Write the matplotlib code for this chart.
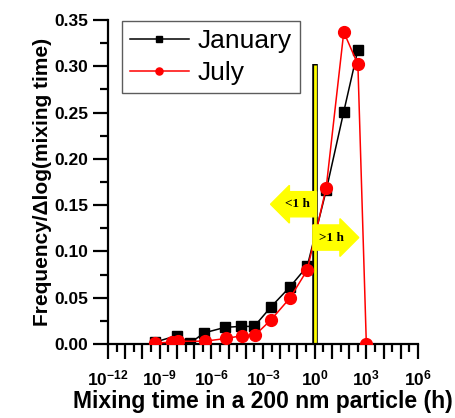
import numpy as np
import matplotlib
matplotlib.use("Agg")
import matplotlib.pyplot as plt
from matplotlib.ticker import FixedLocator, FuncFormatter

plt.rcParams['font.family'] = ['Liberation Sans', 'DejaVu Sans']
plt.rcParams['mathtext.fontset'] = 'custom'
plt.rcParams['mathtext.rm'] = 'Liberation Sans'
plt.rcParams['mathtext.bf'] = 'Liberation Sans:bold'

# Data (log10 of mixing time in hours, frequency)
jan_logt = [-9.27, -8.01, -7.23, -6.42, -5.20, -4.30, -3.51, -2.54, -1.42, -0.43, 0.67, 1.69, 2.51]
jan_freq = [0.002, 0.009, 0.001, 0.012, 0.018, 0.019, 0.019, 0.040, 0.062, 0.084, 0.166, 0.251, 0.318]
jul_logt = [-9.27, -8.30, -7.91, -6.38, -5.14, -4.21, -3.44, -2.54, -1.42, -0.43, 0.67, 1.69, 2.51, 3.00]
jul_freq = [0.001, 0.002, 0.003, 0.003, 0.006, 0.009, 0.010, 0.026, 0.050, 0.080, 0.169, 0.337, 0.302, 0.000]

series_names = ["January", "July"]
divider_time = 1.0      # 1 h
divider_height = 0.303
xtick_exponents = list(range(-12, 7))
labeled_exponents = [-12, -9, -6, -3, 0, 3, 6]

fig = plt.figure(figsize=(4.55, 4.18), dpi=100)
ax = fig.add_axes([108/455, 1-344/418, 310/455, 324/418])

ax.set_xscale('log')
ax.set_xlim(1e-12, 1e6)
ax.set_ylim(0, 0.35)

# divider bar at 1 h
ax.plot([divider_time, divider_time], [0, divider_height], color='black', lw=4.0,
        solid_capstyle='butt', zorder=2)
ax.plot([divider_time, divider_time], [0.0015, divider_height - 0.0015], color='#ffff00', lw=2.0,
        solid_capstyle='butt', zorder=2)

ax.plot(10**np.array(jan_logt), jan_freq, color='black', marker='s', ms=7, lw=1.1,
        label=series_names[0], zorder=3)
ax.plot(10**np.array(jul_logt), jul_freq, color='red', marker='o', ms=8.5, lw=1.1,
        label=series_names[1], zorder=4)

# arrows
ax.text(10**-1.0, 0.151, "<1 h", ha='center', va='center', fontsize=9.5, fontweight='bold',
        family=['Liberation Serif'],
        bbox=dict(boxstyle="larrow,pad=0.5", fc='#ffff00', ec='#ffff00'), zorder=5)
ax.text(10**1.0, 0.115, ">1 h", ha='center', va='center', fontsize=9.5, fontweight='bold',
        family=['Liberation Serif'],
        bbox=dict(boxstyle="rarrow,pad=0.5", fc='#ffff00', ec='#ffff00'), zorder=5)

# spines
for s in ['top', 'right']:
    ax.spines[s].set_visible(False)
for s in ['left', 'bottom']:
    ax.spines[s].set_linewidth(1.6)

# ticks
ax.xaxis.set_major_locator(FixedLocator([10.0**e for e in xtick_exponents]))
ax.xaxis.set_minor_locator(FixedLocator([10.0**(e+0.5) for e in xtick_exponents[:-1]]))
def xfmt(v, pos):
    e = int(round(np.log10(v)))
    if e in labeled_exponents:
        return r"$\mathbf{10^{%d}}$" % e
    return ""
ax.xaxis.set_major_formatter(FuncFormatter(xfmt))
ax.xaxis.set_minor_formatter(FuncFormatter(lambda v, p: ""))

ax.set_yticks(np.arange(0, 0.351, 0.05))
ax.set_yticks(np.arange(0.025, 0.35, 0.05), minor=True)
ax.yaxis.set_major_formatter(FuncFormatter(lambda v, p: "%.2f" % v))

ax.tick_params(axis='both', which='major', direction='out', length=11, width=1.6,
               labelsize=12.5)
ax.tick_params(axis='both', which='minor', direction='out', length=6, width=1.6)
ax.tick_params(axis='x', which='major', pad=7)
ax.tick_params(axis='y', which='major', pad=3)
for lab in ax.get_yticklabels():
    lab.set_fontweight('bold')

ax.set_xlabel("Mixing time in a 200 nm particle (h)", fontsize=16.5, fontweight='bold', labelpad=1)
ax.set_ylabel("Frequency/\u0394log(mixing time)", fontsize=15, fontweight='bold', labelpad=2)

leg = ax.legend(loc='upper left', bbox_to_anchor=(14/310, 1.0 - 1/324), fontsize=19,
                frameon=True, fancybox=False, edgecolor='#333333', handlelength=2.2,
                markerscale=0.6, borderpad=0.32, labelspacing=0.28, handletextpad=0.35,
                borderaxespad=0.0)
leg.get_frame().set_linewidth(1.0)

fig.savefig("out.png", dpi=100)
